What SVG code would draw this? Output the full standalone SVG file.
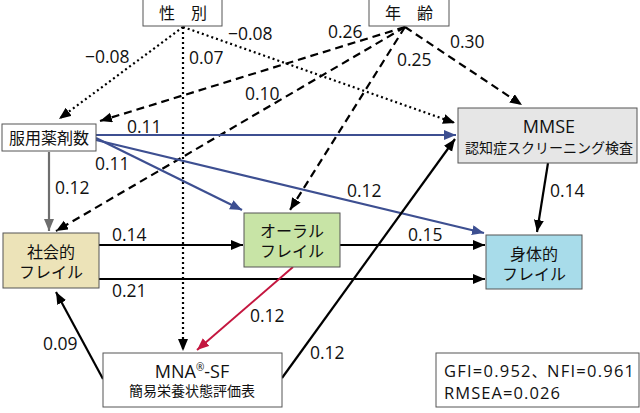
<svg xmlns="http://www.w3.org/2000/svg" width="640" height="413" viewBox="0 0 640 413">
<defs>
<marker id="ak" markerUnits="userSpaceOnUse" markerWidth="13" markerHeight="11" refX="12" refY="5" orient="auto"><path d="M0,0 L12,5 L0,10 z" fill="#000"/></marker>
<marker id="ab" markerUnits="userSpaceOnUse" markerWidth="13" markerHeight="11" refX="12" refY="5" orient="auto"><path d="M0,0 L12,5 L0,10 z" fill="#3d4f91"/></marker>
<marker id="ag" markerUnits="userSpaceOnUse" markerWidth="13" markerHeight="11" refX="12" refY="5" orient="auto"><path d="M0,0 L12,5 L0,10 z" fill="#6e6e6e"/></marker>
<marker id="ar" markerUnits="userSpaceOnUse" markerWidth="13" markerHeight="11" refX="12" refY="5" orient="auto"><path d="M0,0 L12,5 L0,10 z" fill="#c4163f"/></marker>
</defs>
<style>
text{font-family:"Open Sans","Noto Sans CJK JP",sans-serif;fill:#111;}
.bx{stroke:#555;stroke-width:1;}
.t{font-size:16px;text-anchor:middle;}
.m{font-size:18px;text-anchor:middle;}
.s{font-size:14px;text-anchor:middle;}
.n{font-size:17.5px;}
.f{font-size:16.5px;}
.k{stroke:#000;stroke-width:2.2;fill:none;marker-end:url(#ak);}
.dot{stroke:#000;stroke-width:2.2;fill:none;stroke-dasharray:2 3;marker-end:url(#ak);}
.dsh{stroke:#000;stroke-width:2.2;fill:none;stroke-dasharray:8 5;marker-end:url(#ak);}
.b{stroke:#3d4f91;stroke-width:2.2;fill:none;marker-end:url(#ab);}
.g{stroke:#6e6e6e;stroke-width:2.2;fill:none;marker-end:url(#ag);}
.r{stroke:#c4163f;stroke-width:2;fill:none;marker-end:url(#ar);}
</style>
<rect width="640" height="413" fill="#fff"/>
<g id="connectors">
<line class="dot" x1="183" y1="27" x2="59" y2="119"/>
<line class="dot" x1="183" y1="27" x2="183" y2="351"/>
<line class="dot" x1="183" y1="27" x2="455" y2="123"/>
<line class="dsh" x1="405" y1="27" x2="100" y2="121"/>
<line class="dsh" x1="405" y1="27" x2="56" y2="231"/>
<line class="dsh" x1="405" y1="27" x2="290" y2="210"/>
<line class="dsh" x1="405" y1="27" x2="522" y2="105"/>
<line class="b" x1="96" y1="135" x2="456" y2="135"/>
<line class="b" x1="96" y1="138" x2="242" y2="210"/>
<line class="b" x1="96" y1="140" x2="484" y2="233"/>
<line class="g" x1="49" y1="152" x2="49" y2="231"/>
<line class="k" x1="99" y1="245" x2="243" y2="245"/>
<line class="k" x1="99" y1="279" x2="485" y2="279"/>
<line class="k" x1="340" y1="245" x2="485" y2="245"/>
<line class="k" x1="548" y1="163" x2="537" y2="232"/>
<line class="r" x1="293" y1="267" x2="197" y2="350"/>
<line class="k" x1="103" y1="379" x2="56" y2="292"/>
<line class="k" x1="282" y1="378" x2="455" y2="139"/>
</g>
<g id="labels">
<text class="n" x="85" y="63">−0.08</text>
<text class="n" x="189" y="64">0.07</text>
<text class="n" x="228" y="40">−0.08</text>
<text class="n" x="328" y="38">0.26</text>
<text class="n" x="245" y="100">0.10</text>
<text class="n" x="397" y="66">0.25</text>
<text class="n" x="450" y="48">0.30</text>
<text class="n" x="127" y="133">0.11</text>
<text class="n" x="95" y="170">0.11</text>
<text class="n" x="55" y="194">0.12</text>
<text class="n" x="347" y="197">0.12</text>
<text class="n" x="550" y="197">0.14</text>
<text class="n" x="112" y="241">0.14</text>
<text class="n" x="408" y="241">0.15</text>
<text class="n" x="112" y="297">0.21</text>
<text class="n" x="250" y="322">0.12</text>
<text class="n" x="43" y="350">0.09</text>
<text class="n" x="310" y="359">0.12</text>
</g>
<g id="node-sex">
<rect class="bx" x="143" y="-1" width="79" height="27" fill="#fff"/>
<text class="t" x="183" y="19">性　別</text>
</g>
<g id="node-age">
<rect class="bx" x="369" y="-1" width="80" height="27" fill="#fff"/>
<text class="t" x="409" y="19">年　齢</text>
</g>
<g id="node-drugs">
<rect class="bx" x="2" y="124" width="94" height="27" fill="#fff"/>
<text class="t" x="49" y="144">服用薬剤数</text>
</g>
<g id="node-mmse">
<rect class="bx" x="458" y="108" width="179" height="55" fill="#e6e6e6"/>
<text class="m" x="549" y="133">MMSE</text>
<text class="s" x="549" y="153">認知症スクリーニング検査</text>
</g>
<g id="node-social">
<rect class="bx" x="3" y="233" width="96" height="55" fill="#ece3b8"/>
<text class="t" x="51" y="258">社会的</text>
<text class="t" x="51" y="278">フレイル</text>
</g>
<g id="node-oral">
<rect class="bx" x="244" y="213" width="96" height="54" fill="#c8e4a6"/>
<text class="t" x="292" y="237">オーラル</text>
<text class="t" x="292" y="257">フレイル</text>
</g>
<g id="node-physical">
<rect class="bx" x="486" y="235" width="96" height="54" fill="#a8dcea"/>
<text class="t" x="534" y="260">身体的</text>
<text class="t" x="534" y="280">フレイル</text>
</g>
<g id="node-mna">
<rect class="bx" x="103" y="353" width="179" height="54" fill="#fff"/>
<text class="m" x="192" y="378">MNA<tspan font-size="10" dy="-7">®</tspan><tspan dy="7">-SF</tspan></text>
<text class="s" x="192" y="396">簡易栄養状態評価表</text>
</g>
<g id="node-fit">
<rect class="bx" x="436" y="353" width="203" height="54" fill="#fff"/>
<text class="f" x="444" y="377" textLength="190">GFI=0.952<tspan font-size="14">、</tspan>NFI=0.961</text>
<text class="f" x="444" y="399" textLength="116">RMSEA=0.026</text>
</g>
</svg>
